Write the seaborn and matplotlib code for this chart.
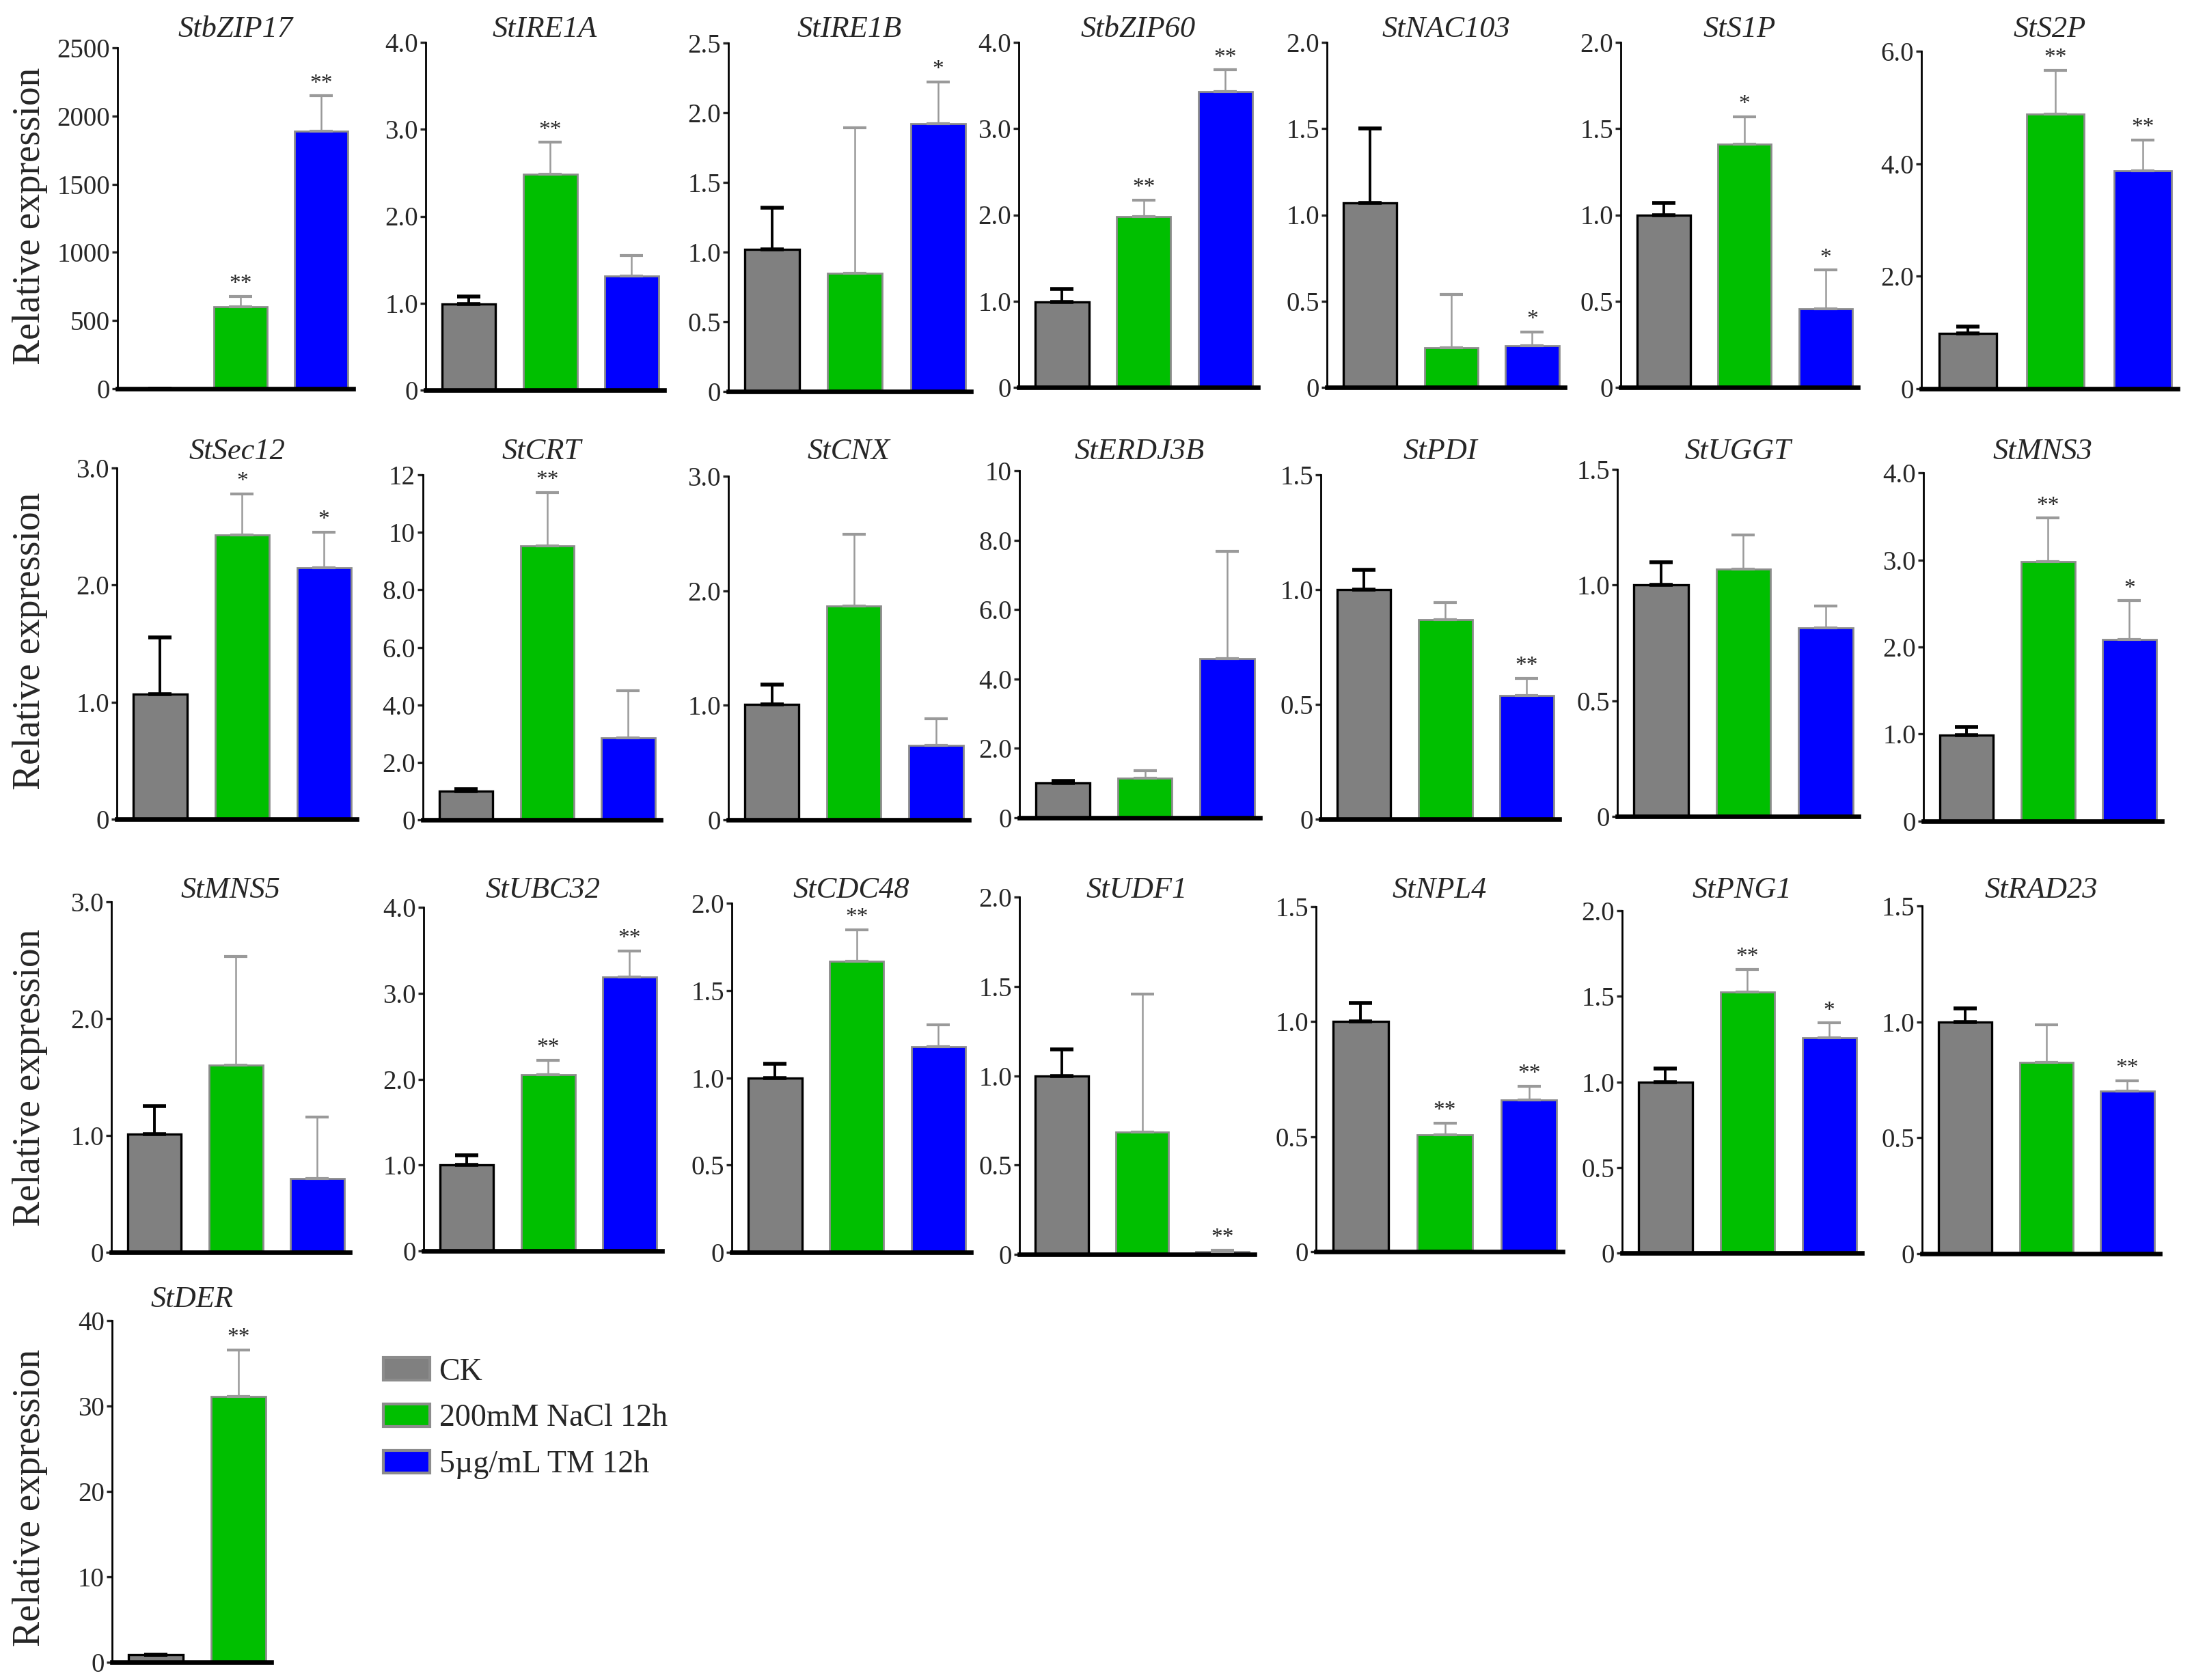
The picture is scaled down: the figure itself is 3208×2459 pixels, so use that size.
import numpy as np
import pandas as pd
import matplotlib
matplotlib.use("Agg")
import matplotlib.pyplot as plt
import seaborn as sns
from matplotlib.patches import Patch

# ---------------- data ----------------
genes = ["StbZIP17", "StIRE1A", "StIRE1B", "StbZIP60", "StNAC103", "StS1P", "StS2P",
         "StSec12", "StCRT", "StCNX", "StERDJ3B", "StPDI", "StUGGT", "StMNS3",
         "StMNS5", "StUBC32", "StCDC48", "StUDF1", "StNPL4", "StPNG1", "StRAD23",
         "StDER"]
treatments = ["CK", "200mM NaCl 12h", "5µg/mL TM 12h"]

ck_vals = [1.0, 0.99, 1.02, 0.99, 1.07, 1.0, 0.98,
           1.07, 0.99, 1.01, 1.0, 1.0, 1.0, 0.99,
           1.01, 1.0, 1.0, 1.0, 1.0, 1.0, 1.0,
           0.85]
ck_errs = [0.1, 0.09, 0.30, 0.15, 0.43, 0.07, 0.13,
           0.48, 0.08, 0.17, 0.06, 0.086, 0.097, 0.09,
           0.24, 0.115, 0.08, 0.148, 0.08, 0.077, 0.058,
           0.05]
nacl_vals = [600, 2.48, 0.85, 1.98, 0.23, 1.41, 4.88,
             2.43, 9.54, 1.865, 1.15, 0.868, 1.07, 2.98,
             1.60, 2.05, 1.667, 0.683, 0.508, 1.524, 0.825,
             31.1]
nacl_errs = [77, 0.37, 1.04, 0.19, 0.31, 0.16, 0.78,
             0.35, 1.85, 0.63, 0.20, 0.076, 0.147, 0.50,
             0.93, 0.17, 0.18, 0.773, 0.051, 0.132, 0.162,
             5.5]
tm_vals = [1887, 1.31, 1.92, 3.43, 0.24, 0.455, 3.88,
           2.15, 2.85, 0.65, 4.58, 0.538, 0.815, 2.09,
           0.63, 3.19, 1.178, 0.015, 0.66, 1.259, 0.70,
           np.nan]
tm_errs = [260, 0.24, 0.30, 0.25, 0.08, 0.225, 0.54,
           0.30, 1.65, 0.23, 3.10, 0.076, 0.093, 0.44,
           0.53, 0.30, 0.127, 0.009, 0.06, 0.085, 0.046,
           np.nan]
nacl_sig = ["**", "**", "", "**", "", "*", "**",
            "*", "**", "", "", "", "", "**",
            "", "**", "**", "", "**", "**", "",
            "**"]
tm_sig = ["**", "", "*", "**", "*", "*", "**",
          "*", "", "", "", "**", "", "*",
          "", "**", "", "**", "**", "*", "**",
          ""]
y_max = [2500, 4.0, 2.5, 4.0, 2.0, 2.0, 6.0,
         3.0, 12, 3.0, 10, 1.5, 1.5, 4.0,
         3.0, 4.0, 2.0, 2.0, 1.5, 2.0, 1.5,
         40]
y_step = [500, 1.0, 0.5, 1.0, 0.5, 0.5, 2.0,
          1.0, 2.0, 1.0, 2.0, 0.5, 0.5, 1.0,
          1.0, 1.0, 0.5, 0.5, 0.5, 0.5, 0.5,
          10]

colors = ["#808080", "#00BF00", "#0000FF"]

# ---------------- layout (pixel boxes: x0, x1, ytop, ybottom) ----------------
W, H = 3208, 2459
boxes = [
    (172, 517, 70, 569), (623, 972, 62, 571), (1066, 1421, 63, 573),
    (1491, 1841, 62, 567), (1942, 2290, 62, 567), (2372, 2719, 62, 567),
    (2812, 3187, 75, 569),
    (171, 522, 685, 1199), (619, 967, 695, 1200), (1066, 1418, 697, 1200),
    (1492, 1844, 689, 1197), (1933, 2282, 695, 1199), (2367, 2720, 687, 1195),
    (2815, 3164, 692, 1202),
    (163, 512, 1320, 1833), (620, 969, 1328, 1831), (1071, 1421, 1322, 1833),
    (1492, 1836, 1313, 1836), (1926, 2287, 1327, 1832), (2374, 2725, 1333, 1834),
    (2813, 3161, 1326, 1835),
    (164, 397, 1933, 2433),
]
title_y = [43] * 7 + [661] * 7 + [1303] * 7 + [1902]
ylabel_y = [316, 938, 1577, 2192]

sns.set_style("ticks")
plt.rcParams["font.family"] = ["Liberation Serif", "DejaVu Serif"]
plt.rcParams["axes.linewidth"] = 1.0

fig = plt.figure(figsize=(W / 200, H / 200), dpi=200)


def fmt(v, step):
    if v == 0:
        return "0"
    if step >= 10 or v >= 10:
        return str(int(round(v)))
    return f"{v:.1f}"


for i, g in enumerate(genes):
    x0, x1, yt, yb = boxes[i]
    ax = fig.add_axes([x0 / W, 1 - yb / H, (x1 - x0) / W, (yb - yt) / H])
    vals = [ck_vals[i], nacl_vals[i], tm_vals[i]]
    errs = [ck_errs[i], nacl_errs[i], tm_errs[i]]
    sigs = ["", nacl_sig[i], tm_sig[i]]
    n = 3 if not np.isnan(tm_vals[i]) else 2
    df = pd.DataFrame({"treatment": treatments[:n], "value": vals[:n]})
    sns.barplot(data=df, x="treatment", y="value", hue="treatment",
                order=treatments[:n], hue_order=treatments[:n],
                palette=colors[:n], width=0.66, errorbar=None, legend=False,
                saturation=1, ax=ax)
    for j, p in enumerate(ax.patches[:n]):
        if j == 0:
            p.set_edgecolor("black")
            p.set_linewidth(1.2)
        else:
            p.set_edgecolor("#8c8c8c")
            p.set_linewidth(1.0)
    for j in range(n):
        ec = "black" if j == 0 else "#9a9a9a"
        lw = 1.4 if j == 0 else 0.9
        ax.errorbar([j], [vals[j]], yerr=[[0], [errs[j]]], fmt="none",
                    ecolor=ec, elinewidth=lw, capsize=6, capthick=lw + 0.6,
                    clip_on=False, zorder=3)
        if sigs[j]:
            ax.annotate(sigs[j], xy=(j, vals[j] + errs[j]), xytext=(0, 1),
                        textcoords="offset points", ha="center", va="bottom",
                        fontsize=12, annotation_clip=False)
    ax.set_xlim(-0.53, n - 0.6)
    ax.set_ylim(0, y_max[i])
    ticks = np.arange(0, y_max[i] + y_step[i] * 0.01, y_step[i])
    ax.set_yticks(ticks)
    ax.set_yticklabels([fmt(t, y_step[i]) for t in ticks], fontsize=14)
    ax.tick_params(axis="y", length=3, width=1.2, pad=1, direction="out")
    ax.tick_params(axis="x", length=0, labelbottom=False)
    ax.set_xlabel("")
    ax.set_ylabel("")
    sns.despine(ax=ax)
    ax.spines["bottom"].set_linewidth(2.4)
    ax.spines["bottom"].set_color("black")
    ax.spines["left"].set_color("black")
    ax.spines["left"].set_linewidth(1.0)
    fig.text((x0 + x1) / 2 / W, 1 - title_y[i] / H, g, ha="center", va="center",
             style="italic", fontsize=16)

for yy in ylabel_y:
    fig.text(44 / W, 1 - yy / H, "Relative expression", rotation=90,
             ha="center", va="center", fontsize=20)

handles = [Patch(facecolor=c, edgecolor="#8c8c8c", linewidth=1.5) for c in colors]
fig.legend(handles, treatments, loc="upper left",
           bbox_to_anchor=(561 / W, 1 - 1987 / H), frameon=False,
           fontsize=16.5, handlelength=1.48, handleheight=0.74,
           handletextpad=0.3, labelspacing=0.55, borderpad=0, borderaxespad=0)

fig.savefig("out.png", dpi=200)
